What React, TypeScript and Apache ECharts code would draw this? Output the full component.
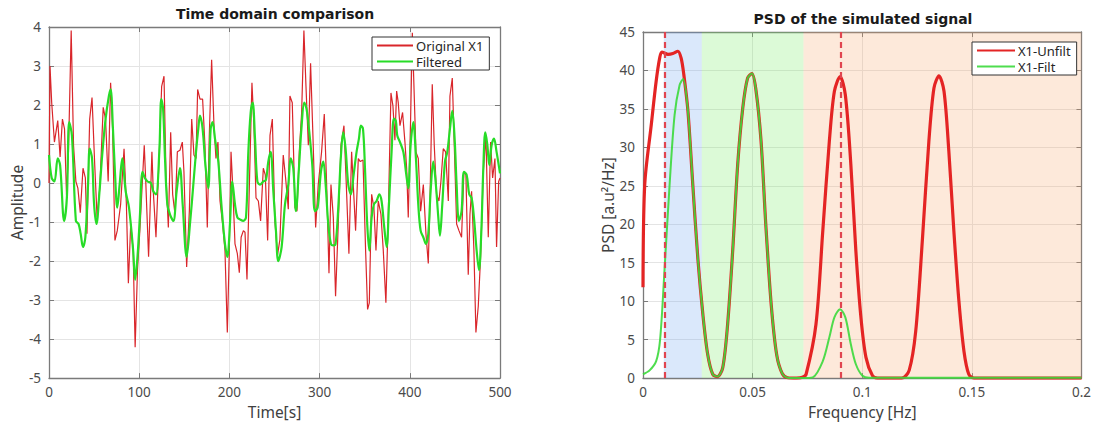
import React, { useEffect, useRef } from "react";
import * as echarts from "echarts";

// ---------- Time domain data (time [s], amplitude) ----------
const originalX1: [number, number][] = [
  [0, 0.0], [1.1, 3.0], [3, 2.06], [6, 1.05], [9.7, 1.6], [12.3, 0.67], [14.9, 1.64], [17.2, 1.39], [19.4, -0.3], [21.6, 0.8],
  [24.6, 3.91], [27.2, 0.97], [29.8, 0.04], [32, -0.13], [34.7, -0.76], [37.7, 0.38], [40.3, 0.13], [42.1, -1.3], [45.1, 1.64], [47.7, 2.19],
  [50.7, 0.46], [53.3, -0.88], [56.3, -0.13], [60.1, 1.94], [62.7, 1.64], [65.6, 0.04], [68.3, 2.57], [70.5, 1.39], [73.1, -1.47], [75.7, -1.22],
  [79.4, -0.55], [83.2, 0.88], [85.8, -0.55], [88, -2.57], [90.6, -1.05], [93.3, -1.73], [95.5, -4.21], [98.1, -2.23], [100.7, -1.22], [105.6, 0.97],
  [107.4, -0.04], [110.4, -1.89], [114.1, 0.8], [115.6, -0.21], [118.6, -1.39], [122.3, 0.8], [124.9, 2.48], [127.5, 2.74], [129.7, 0.21], [132.3, -1.14],
  [134.9, 1.3], [137.1, -0.29], [139.7, -0.8], [142.3, 0.8], [145.2, 0.84], [147.8, 1.05], [149.6, 0.29], [152.6, -2.15], [155.6, -0.72], [158.2, 1.64],
  [160.7, 0.72], [163, 0.63], [164.8, 2.4], [167.4, 2.15], [170.3, 2.15], [172.9, 0.97], [175.5, -1.14], [177.7, 1.22], [180.3, 3.16], [182.9, 1.47],
  [185.1, 0.63], [187.3, 1.05], [189.6, -0.46], [192.5, -1.05], [195.1, -1.73], [197.7, -3.83], [199.9, -1.73], [201.8, 0.8], [203.6, -0.04], [206.2, -1.56],
  [208.8, -1.81], [211, -2.3], [213, -1.39], [215.5, -1.22], [217.3, -1.26], [219.5, -2.47], [222.8, 0.55], [225, 2.57], [227.2, 1.47], [229.5, -0.38],
  [232.1, -0.46], [234.6, -0.97], [237.6, 0.38], [239.8, 0.21], [242.4, -1.47], [245, 1.22], [247.6, 1.64], [250.5, -1.0], [253.3, -1.85], [256, -1.45],
  [259.7, 0.72], [262.3, 0.13], [265.3, -0.67], [267.1, 2.23], [269.7, 2.06], [272.7, -0.63], [274.9, -0.72], [277.5, 0.8], [280.1, 1.81], [282.6, 3.91],
  [284.9, 2.48], [287.5, 0.97], [290, 3.07], [292.6, 1.22], [295.6, -1.14], [298.5, -0.04], [302.2, 0.8], [305.2, 1.77], [307.8, -0.04], [310.4, -2.31],
  [312.6, -0.04], [315.2, -0.88], [317.7, -2.9], [320.7, -1.05], [323.7, 0.97], [327, 1.47], [329.6, -0.04], [332.5, -1.81], [335.5, 0.8], [337.7, -0.21],
  [339.9, -1.22], [342.9, 0.63], [345.1, 0.55], [348.1, 0.59], [351, -1.73], [353.2, -3.24], [355.1, -3.07], [357.7, -0.29], [360.2, -0.63], [362.5, -1.73],
  [365, -0.46], [368, -0.8], [370.6, -1.73], [373.5, -3.07], [376.1, -0.88], [379.1, 2.31], [381.3, 1.98], [383.5, 1.1], [385.4, 2.36], [387.2, 2.06],
  [389.1, 1.47], [392, 1.81], [394.6, 1.05], [396.5, 0.38], [398.3, -0.88], [400.9, 1.64], [402.8, 3.85], [406.8, 0.8], [409.4, 0.63], [412, -0.72],
  [415, -0.04], [417.9, -1.3], [420.5, -2.06], [422.3, -0.55], [424.9, 2.53], [427.1, 0.97], [429.7, -0.29], [432.3, -0.46], [434.5, 0.04], [437.1, 0.88],
  [439.7, 0.8], [442.7, -0.46], [444.5, 2.23], [447.1, 2.69], [449.3, 0.97], [451.9, -1.05], [454.5, -1.22], [457.4, -1.39], [460, 0.29], [462.2, 0.21],
  [464.8, -2.35], [466.7, -0.8], [468.5, -0.21], [471.1, -1.73], [473.3, -3.83], [475.9, -3.16], [478.5, -1.89], [481.5, 0.29], [484.4, 1.22], [487, -1.39],
  [489.6, 1.05], [491.8, 0.13], [494.4, 0.63], [496.2, -1.64], [498.5, 0.04], [500, 0.13],
];

const filteredX1: [number, number][] = [
  [0, 0.72], [3, 0.13], [6, 0.04], [9.7, 0.63], [12.3, 0.46], [16.8, -0.97], [19.8, -0.38], [22.4, 1.56], [25.4, 1.22], [29.8, -0.97],
  [32.8, -1.05], [35.1, -1.3], [37.7, -1.64], [40.3, -1.39], [43.3, -0.04], [45.1, 0.88], [47.7, 0.63], [50, -0.55], [52.6, -1.05], [56, -0.21],
  [59, 0.72], [62.7, 1.64], [66.4, 2.23], [68.3, 2.4], [70.9, 1.39], [73.1, 0.29], [75.7, -0.63], [78.3, -0.04], [81.3, 0.63], [85, -0.21],
  [88.7, -0.63], [93.3, -1.73], [95.5, -2.48], [98.1, -1.89], [100.7, -0.88], [103.7, 0.29], [106.3, 0.13], [109.3, 0.04], [113, 0], [115.6, -0.21],
  [118.6, -0.29], [122.3, 0.8], [124.5, 2.15], [126.5, 1.9], [128.6, 0.63], [131.2, -0.55], [134.1, -0.8], [137.8, -0.97], [141.5, -0.21], [145.2, 0.38],
  [148.2, -0.55], [152.6, -1.89], [156.3, -1.05], [160, -0.04], [163, 0.8], [165.5, 1.39], [167.4, 1.73], [170.3, 1.39], [173.7, 0.38], [176.6, -0.13],
  [179.2, 1.39], [181.4, 1.56], [184, 1.14], [187.7, 0.55], [191.4, -0.63], [195.1, -1.56], [197.7, -1.89], [200.6, -1.05], [203.2, 0.04], [206.2, -0.55],
  [208.8, -0.88], [211.7, -0.93], [215.4, -0.97], [218.4, -0.88], [221, 0.8], [223.6, 1.81], [225.8, 2.06], [228.4, 1.14], [231, 0.04], [233.9, -0.04],
  [237.6, 0.04], [240.5, 0.08], [243.1, 0.55], [245.7, 0.8], [248.7, -0.21], [251.6, -1.22], [254.2, -2.0], [257.9, -1.64], [261.6, -0.55], [265.3, -0.04],
  [267.9, 0.63], [270.8, 0.38], [273.8, -0.72], [277.1, 0.38], [280.1, 1.47], [283, 2.06], [285.6, 1.89], [288.6, 1.3], [291.9, 0.46], [294.8, -0.72],
  [297.8, -0.63], [301.5, 0.29], [304.1, 0.55], [306.7, -0.04], [309.6, -1.05], [312.6, -1.56], [315.2, -1.6], [317.7, -1.56], [320.7, -0.63], [323.7, 0.72],
  [326.2, 1.3], [328.8, 0.88], [331.8, -0.04], [334.7, -0.29], [337.7, 0.21], [341, 0.8], [343.6, 1.14], [345.8, 1.47], [348.1, 1.39], [350.3, 0.38],
  [352.8, -1.05], [355.1, -1.73], [357.7, -0.88], [360.2, -0.55], [363.2, -0.46], [366.2, -0.29], [368.7, -0.46], [371.3, -1.05], [374.3, -1.64], [376.9, -0.55],
  [379.8, 0.8], [382.4, 1.65], [384.5, 1.6], [386.1, 1.22], [389.1, 1.05], [392.8, 0.8], [395.7, 0.29], [398.3, -0.13], [400.9, 0.97], [403.9, 1.56],
  [406.8, 0.63], [409.4, -0.55], [412, -1.22], [415, -1.39], [417.9, -1.56], [420.5, -1.3], [423.1, -0.21], [426, 0.55], [428.6, 0.04], [431.6, -0.88],
  [433.4, -1.35], [436, -0.55], [439, 0.55], [441.6, 0.8], [444.5, 1.39], [447.1, 1.85], [449.7, 1.14], [451.9, -0.04], [454.5, -0.97], [457.4, -0.72],
  [460, 0.29], [463, 0.21], [465.9, -0.29], [468.5, -0.38], [471.1, -0.88], [474.1, -1.73], [476.7, -2.23], [479.2, -1.3], [481.5, 0.38], [483.7, 1.3],
  [485.9, 1.0], [488.1, 0.46], [490.7, 0.97], [493.3, 1.14], [496.2, 0.8], [500, 0.25],
];

// ---------- PSD data (frequency [Hz], PSD) ----------
const psdUnfilt: [number, number][] = [
  [0, 11.8], [0.0008, 25.2], [0.0038, 33], [0.006, 38.6], [0.0076, 41.6], [0.0086, 42.4], [0.0114, 42.1], [0.0136, 42.2], [0.0159, 42.5], [0.0174, 41.6],
  [0.0186, 39.5], [0.0205, 34.7], [0.0227, 25.2], [0.025, 15.6], [0.0273, 8.3], [0.0295, 3.1], [0.0318, 0.5], [0.034, 0.2], [0.0364, 1.4], [0.0386, 7],
  [0.0409, 16.5], [0.0432, 27.8], [0.0455, 35.1], [0.0477, 39], [0.0497, 39.6], [0.0515, 37.5], [0.0538, 31], [0.056, 20], [0.0585, 9.5], [0.061, 3],
  [0.0635, 0.6], [0.066, 0.05], [0.07, 0], [0.0727, 0.1], [0.0744, 0.5], [0.0789, 7], [0.082, 19.1], [0.085, 30.8], [0.0873, 37.3], [0.0899, 39.2],
  [0.0923, 36.8], [0.0948, 27.8], [0.0971, 16.5], [0.0994, 7.9], [0.1017, 2.7], [0.1047, 0.3], [0.107, 0], [0.118, 0], [0.1214, 1], [0.1244, 6.1],
  [0.1274, 17.8], [0.1304, 30.8], [0.1327, 37.7], [0.135, 39.3], [0.1373, 37.3], [0.1395, 29.5], [0.1418, 19.1], [0.1441, 10], [0.1464, 3.5], [0.1486, 0.5],
  [0.151, 0], [0.2, 0],
];

const psdFilt: [number, number][] = [
  [0, 0.5], [0.003, 1.0], [0.006, 2.2], [0.0078, 5], [0.0098, 14], [0.0121, 25], [0.0144, 34.2], [0.0167, 38.1], [0.0183, 38.9], [0.0205, 34.7],
  [0.0227, 25.2], [0.025, 15.6], [0.0273, 8.3], [0.0295, 3.1], [0.0318, 0.5], [0.034, 0.2], [0.0364, 1.4], [0.0386, 7], [0.0409, 16.5], [0.0432, 27.8],
  [0.0455, 35.1], [0.0477, 39], [0.0497, 39.6], [0.0515, 37.5], [0.0538, 31], [0.056, 20], [0.0585, 9.5], [0.061, 3], [0.0635, 0.6], [0.066, 0.05],
  [0.0727, 0], [0.0774, 0.1], [0.082, 2.2], [0.085, 5.3], [0.0873, 7.9], [0.0899, 8.95], [0.0923, 7.9], [0.0948, 4.4], [0.0971, 1.8], [0.1001, 0.3],
  [0.1032, 0.05], [0.2, 0.05],
];

const dashedFreqs = [0.0077, 0.09];
const bandBlue = [0.0095, 0.0268];
const bandGreen = [0.0268, 0.0732];
const bandOrange = [0.0732, 0.2];

const timeTicks = { min: 0, max: 500, interval: 100 };
const ampTicks = { min: -5, max: 4, interval: 1 };
const freqTicks = { min: 0, max: 0.2, interval: 0.05 };
const psdTicks = { min: 0, max: 45, interval: 5 };

const FONT = "'Noto Sans', 'Open Sans', sans-serif";
const AXIS_GRAY = "#7a7a7a";
const GRID_GRAY = "#e4e4e4";

function primaryAxis(gridIndex: number, ticks: any, position: string, name: string, nameGap: number, isY: boolean) {
  return {
    type: "value",
    gridIndex,
    position,
    ...ticks,
    name,
    nameLocation: "middle",
    nameGap,
    nameTextStyle: { fontFamily: FONT, fontSize: 15.5, color: "#404040" },
    axisLine: { show: true, onZero: false, lineStyle: { color: AXIS_GRAY, width: 1.3 } },
    axisTick: { show: true, inside: true, length: 5, lineStyle: { color: AXIS_GRAY } },
    axisLabel: { show: true, fontFamily: FONT, fontSize: 13.5, color: "#4a4a4a", margin: isY ? 8 : 7 },
    splitLine: { show: true, lineStyle: { color: GRID_GRAY, width: 1 } },
  };
}

function secondaryAxis(gridIndex: number, ticks: any, position: string) {
  return {
    type: "value",
    gridIndex,
    position,
    ...ticks,
    axisLine: { show: true, onZero: false, lineStyle: { color: AXIS_GRAY, width: 1.3 } },
    axisTick: { show: true, inside: true, length: 5, lineStyle: { color: AXIS_GRAY } },
    axisLabel: { show: false },
    splitLine: { show: false },
  };
}

const legendBase = {
  orient: "vertical",
  padding: [2, 6, 2, 4],
  itemGap: 3,
  itemHeight: 14,
  backgroundColor: "#ffffff",
  borderColor: "#333333",
  borderWidth: 1,
  borderRadius: 0,
  itemStyle: { opacity: 0 },
  textStyle: { fontFamily: FONT, fontSize: 13, color: "#262626", padding: [0, 0, 0, -2] },
  z: 20,
};

export default function App() {
  const ref = useRef<HTMLDivElement>(null);

  useEffect(() => {
    document.body.style.margin = "0";
    if (!ref.current) return;
    const chart = echarts.init(ref.current, null, { renderer: "svg" });

    const option: any = {
      animation: false,
      backgroundColor: "#ffffff",
      title: [
        {
          text: "Time domain comparison",
          left: 275,
          top: 7,
          textAlign: "center",
          padding: 0,
          textStyle: { fontFamily: "'DejaVu Sans', sans-serif", fontWeight: "bold", fontSize: 14, color: "#1a1a1a" },
        },
        {
          text: "PSD of the simulated signal",
          left: 863,
          top: 12,
          textAlign: "center",
          padding: 0,
          textStyle: { fontFamily: "'DejaVu Sans', sans-serif", fontWeight: "bold", fontSize: 14, color: "#1a1a1a" },
        },
      ],
      legend: [
        { ...legendBase, data: ["Original X1", "Filtered"], left: 372, top: 37, itemWidth: 36 },
        { ...legendBase, data: ["X1-Unfilt", "X1-Filt"], left: 972, top: 42, itemWidth: 38 },
      ],
      grid: [
        { left: 49, top: 27, width: 451, height: 356 },
        { left: 643, top: 32, width: 440, height: 347 },
      ],
      xAxis: [
        primaryAxis(0, timeTicks, "bottom", "Time[s]", 22, false),
        secondaryAxis(0, timeTicks, "top"),
        primaryAxis(1, freqTicks, "bottom", "Frequency [Hz]", 25, false),
        secondaryAxis(1, freqTicks, "top"),
      ],
      yAxis: [
        primaryAxis(0, ampTicks, "left", "Amplitude", 24, true),
        secondaryAxis(0, ampTicks, "right"),
        primaryAxis(1, psdTicks, "left", "PSD [a.u²/Hz]", 27, true),
        secondaryAxis(1, psdTicks, "right"),
      ],
      series: [
        {
          name: "Original X1",
          type: "line",
          xAxisIndex: 0,
          yAxisIndex: 0,
          data: originalX1,
          symbol: "none",
          smooth: false,
          lineStyle: { color: "#d9262b", width: 1.2 },
          itemStyle: { color: "#d9262b" },
          z: 3,
        },
        {
          name: "Filtered",
          type: "line",
          xAxisIndex: 0,
          yAxisIndex: 0,
          data: filteredX1,
          symbol: "none",
          smooth: 0.35,
          lineStyle: { color: "#27dc27", width: 2.2 },
          itemStyle: { color: "#27dc27" },
          z: 4,
        },
        {
          name: "bands",
          type: "line",
          xAxisIndex: 2,
          yAxisIndex: 2,
          data: [],
          symbol: "none",
          silent: true,
          z: 1,
          markArea: {
            silent: true,
            data: [
              [{ xAxis: bandBlue[0], itemStyle: { color: "rgba(107,163,239,0.25)" } }, { xAxis: bandBlue[1] }],
              [{ xAxis: bandGreen[0], itemStyle: { color: "rgba(115,235,95,0.25)" } }, { xAxis: bandGreen[1] }],
              [{ xAxis: bandOrange[0], itemStyle: { color: "rgba(247,167,107,0.25)" } }, { xAxis: bandOrange[1] }],
            ],
          },
        },
        {
          name: "X1-Unfilt",
          type: "line",
          xAxisIndex: 2,
          yAxisIndex: 2,
          data: psdUnfilt,
          symbol: "none",
          smooth: 0.3,
          lineStyle: { color: "#e42424", width: 3.2 },
          itemStyle: { color: "#e42424" },
          z: 3,
        },
        {
          name: "X1-Filt",
          type: "line",
          xAxisIndex: 2,
          yAxisIndex: 2,
          data: psdFilt,
          symbol: "none",
          smooth: 0.3,
          lineStyle: { color: "#3bd93b", width: 2, opacity: 0.9 },
          itemStyle: { color: "#3bd93b" },
          z: 4,
        },
        {
          name: "markers",
          type: "line",
          xAxisIndex: 2,
          yAxisIndex: 2,
          data: [],
          symbol: "none",
          silent: true,
          z: 6,
          markLine: {
            silent: true,
            symbol: "none",
            label: { show: false },
            lineStyle: { color: "#e0454f", width: 2.2, type: [6, 4], opacity: 1 },
            data: dashedFreqs.map((f) => ({ xAxis: f })),
          },
        },
      ],
    };

    chart.setOption(option);
    return () => chart.dispose();
  }, []);

  return <div ref={ref} style={{ width: 1094, height: 425 }} />;
}
